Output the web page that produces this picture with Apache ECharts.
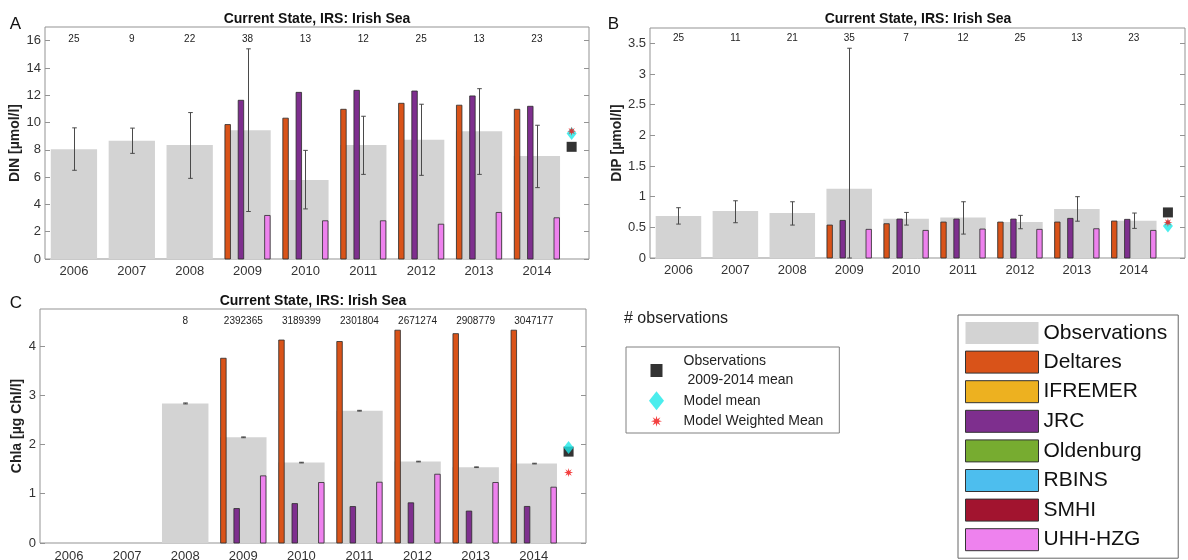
<!DOCTYPE html>
<html><head><meta charset="utf-8">
<script src="https://cdn.jsdelivr.net/npm/echarts@6/dist/echarts.min.js"></script>
<style>html,body{margin:0;padding:0;background:#fff}#c{width:1188px;height:560px}</style>
</head><body><div id="c"></div>
<script>
// ---------------- data ----------------
const years = ['2006','2007','2008','2009','2010','2011','2012','2013','2014'];
const modelNames = ['Deltares','IFREMER','JRC','Oldenburg','RBINS','SMHI','UHH-HZG'];
const modelColors = ['#d95319','#edb120','#7e2f8e','#77ac30','#4dbeee','#a2142f','#ee82ee'];

// Panel A: DIN
const obsA   = [8.05, 8.66, 8.35, 9.44, 5.79, 8.35, 8.73, 9.37, 7.54];
const errLoA = [6.50, 7.74, 5.91, 3.48, 3.67, 6.20, 6.13, 6.20, 5.23];
const errHiA = [9.61, 9.59, 10.73, 15.40, 7.96, 10.46, 11.34, 12.48, 9.80];
const delA   = [null, null, null, 9.85, 10.32, 10.97, 11.41, 11.27, 10.97];
const jrcA   = [null, null, null, 11.63, 12.21, 12.36, 12.31, 11.95, 11.19];
const uhhA   = [null, null, null, 3.19, 2.80, 2.80, 2.55, 3.41, 3.02];
const countsA = ['25','9','22','38','13','12','25','13','23'];
const meansA = [8.22, 9.20, 9.37]; // obs 2009-2014 mean, model mean, weighted mean
const yTicksA = [0,2,4,6,8,10,12,14,16];

// Panel B: DIP
const obsB   = [0.684, 0.765, 0.733, 1.13, 0.64, 0.662, 0.586, 0.80, 0.608];
const errLoB = [0.553, 0.575, 0.537, 0.0, 0.537, 0.39, 0.477, 0.60, 0.483];
const errHiB = [0.82, 0.933, 0.917, 3.42, 0.743, 0.917, 0.695, 1.0, 0.733];
const delB   = [null, null, null, 0.537, 0.559, 0.586, 0.586, 0.586, 0.602];
const jrcB   = [null, null, null, 0.613, 0.635, 0.635, 0.635, 0.646, 0.630];
const uhhB   = [null, null, null, 0.467, 0.450, 0.472, 0.467, 0.477, 0.450];
const countsB = ['25','11','21','35','7','12','25','13','23'];
const meansB = [0.743, 0.52, 0.58];
const yTicksB = [0,0.5,1,1.5,2,2.5,3,3.5];

// Panel C: Chla
const obsC   = [null, null, 2.833, 2.145, 1.632, 2.685, 1.653, 1.538, 1.612];
const errLoC = [null, null, 2.823, 2.137, 1.625, 2.677, 1.646, 1.531, 1.605];
const errHiC = [null, null, 2.843, 2.153, 1.639, 2.693, 1.660, 1.545, 1.619];
const delC   = [null, null, null, 3.75, 4.12, 4.09, 4.32, 4.25, 4.32];
const jrcC   = [null, null, null, 0.70, 0.80, 0.74, 0.816, 0.648, 0.742];
const uhhC   = [null, null, null, 1.363, 1.228, 1.234, 1.396, 1.228, 1.133];
const countsC = ['', '', '8','2392365','3189399','2301804','2671274','2908779','3047177'];
const meansC = [1.855, 1.94, 1.43];
const yTicksC = [0,1,2,3,4];

// ---------------- styling / layout ----------------
const FONT = '"Liberation Sans", Arial, Helvetica, sans-serif';
const BOX = '#939393';
const panels = [
  {grid:{left:45, top:27, width:544, height:232}, yMax:17, yTicks:yTicksA, yName:'DIN [µmol/l]', nameGap:21, xMargin:6,
   obs:obsA, lo:errLoA, hi:errHiA, models:{'Deltares':delA,'JRC':jrcA,'UHH-HZG':uhhA}, counts:countsA, countY:16.1, means:meansA},
  {grid:{left:650, top:28, width:535, height:230}, yMax:3.75, yTicks:yTicksB, yName:'DIP [µmol/l]', nameGap:25, xMargin:6,
   obs:obsB, lo:errLoB, hi:errHiB, models:{'Deltares':delB,'JRC':jrcB,'UHH-HZG':uhhB}, counts:countsB, countY:3.59, means:meansB},
  {grid:{left:40, top:309, width:546, height:234}, yMax:4.75, yTicks:yTicksC, yName:'Chla [µg Chl/l]', nameGap:16, xMargin:7,
   obs:obsC, lo:errLoC, hi:errHiC, models:{'Deltares':delC,'JRC':jrcC,'UHH-HZG':uhhC}, counts:countsC, countY:4.5, means:meansC}
];
const X_MIN = 0.5, X_MAX = 9.9, X_MEAN = 9.6;
const xPos = years.map((y,i)=>i+1);

function starPathStr(cx, cy, r1, r2, n){
  let d = '';
  for (let i=0;i<2*n;i++){
    const a = Math.PI*i/n - Math.PI/2, r = (i%2)? r2 : r1;
    d += (i?'L':'M') + (cx + r*Math.cos(a)).toFixed(2) + ',' + (cy + r*Math.sin(a)).toFixed(2);
  }
  return d + 'Z';
}
const starSymbol = 'path://' + starPathStr(50,50,50,20,8);
const legSquare = 'path://M6,0L6,0.01M0,3L12,3L12,16L0,16ZM6,19L6,19.01';
const legDiamond = 'path://M7.5,0L15,9.5L7.5,19L0,9.5Z';
const legStar = 'path://M6,0L6,0.01' + starPathStr(6,9.5,5.5,2.3,8) + 'M6,19L6,19.01';

function barRender(offset, width, color, stroke){
  return function(params, api){
    const x = api.value(0), v = api.value(1);
    const p0 = api.coord([x + offset - width/2, 0]);
    const p1 = api.coord([x + offset + width/2, v]);
    return {type:'rect', shape:{x:p0[0], y:p1[1], width:p1[0]-p0[0], height:p0[1]-p1[1]},
            style:{fill:color, stroke: stroke || null, lineWidth: stroke ? 0.8 : 0}};
  };
}
function errRender(params, api){
  const x = api.value(0), lo = api.value(1), hi = api.value(2);
  const a = api.coord([x, lo]), b = api.coord([x, hi]);
  const c = 2.3, st = {stroke:'#4a4a4a', lineWidth:1};
  const xx = Math.round(a[0]) + 0.5;
  return {type:'group', children:[
    {type:'line', shape:{x1:xx, y1:a[1], x2:xx, y2:b[1]}, style:st},
    {type:'line', shape:{x1:xx-c, y1:a[1], x2:xx+c, y2:a[1]}, style:st},
    {type:'line', shape:{x1:xx-c, y1:b[1], x2:xx+c, y2:b[1]}, style:st}
  ]};
}

const grids = [], xAxes = [], yAxes = [], series = [];
panels.forEach((p, g) => {
  grids.push(Object.assign({show:true, borderColor:BOX, borderWidth:1, backgroundColor:'transparent',
    containLabel:false, outerBoundsMode:'none'}, p.grid));
  xAxes.push({type:'value', gridIndex:g, min:X_MIN, max:X_MAX,
    axisLine:{show:false}, axisTick:{show:false}, splitLine:{show:false},
    axisLabel:{customValues:xPos, formatter:v => years[Math.round(v)-1] || '', margin:p.xMargin,
               fontSize:13, color:'#333', fontFamily:FONT}});
  const yBase = {type:'value', gridIndex:g, min:0, max:p.yMax, splitLine:{show:false}, axisLine:{show:false}};
  yAxes.push(Object.assign({}, yBase, {position:'left', name:p.yName, nameLocation:'middle', nameGap:p.nameGap,
    nameTextStyle:{fontWeight:'bold', fontSize:14, color:'#222', fontFamily:FONT},
    axisTick:{show:true, inside:true, length:5, customValues:p.yTicks, lineStyle:{color:BOX}},
    axisLabel:{customValues:p.yTicks, margin:4, fontSize:13, color:'#333', fontFamily:FONT}}));
  yAxes.push(Object.assign({}, yBase, {position:'right',
    axisTick:{show:true, inside:true, length:5, customValues:p.yTicks, lineStyle:{color:BOX}},
    axisLabel:{show:false, customValues:p.yTicks}}));
  const ax = {xAxisIndex:g, yAxisIndex:2*g};

  // observation bars
  series.push(Object.assign({type:'custom', name:'Observations', silent:true,
    renderItem: barRender(0, 0.8, '#d3d3d3', null),
    encode:{x:0, y:1},
    data: p.obs.map((v,i)=>[i+1, v]).filter(d=>d[1]!=null)}, ax));
  // model bars
  modelNames.forEach((m, k) => {
    const vals = p.models[m];
    if (!vals) return;
    series.push(Object.assign({type:'custom', name:m, silent:true,
      itemStyle:{color:modelColors[k]},
      renderItem: barRender((k-3)*0.8/7, 0.095, modelColors[k], '#2b2b2b'),
      encode:{x:0, y:1},
      data: vals.map((v,i)=>[i+1, v]).filter(d=>d[1]!=null)}, ax));
  });
  // error bars
  series.push(Object.assign({type:'custom', name:'err'+g, silent:true, renderItem: errRender,
    encode:{x:0, y:[1,2]},
    data: p.obs.map((v,i)=>[i+1, p.lo[i], p.hi[i]]).filter(d=>d[1]!=null)}, ax));
  // observation counts
  series.push(Object.assign({type:'custom', name:'n'+g, silent:true,
    renderItem: (params, api) => {
      const pt = api.coord([api.value(0), api.value(1)]);
      return {type:'text', x:pt[0], y:pt[1], style:{text:p.counts[params.dataIndex], fill:'#222',
        fontSize:10, fontFamily:FONT, align:'center', verticalAlign:'middle'}};
    },
    encode:{x:0, y:1},
    data: p.counts.map((c,i)=>[i+1, p.countY])}, ax));
  // means
  series.push(Object.assign({type:'scatter', name:'Observations 2009-2014 mean', silent:true,
    symbol:'rect', symbolSize:10, itemStyle:{color:'#000'}, data:[[X_MEAN, p.means[0]]]}, ax));
  series.push(Object.assign({type:'scatter', name:'Model mean', silent:true,
    symbol:'diamond', symbolSize:[10,13], itemStyle:{color:'#1ee8e8'}, data:[[X_MEAN, p.means[1]]]}, ax));
  series.push(Object.assign({type:'scatter', name:'Model Weighted Mean', silent:true,
    symbol:starSymbol, symbolSize:9, itemStyle:{color:'#f01010'}, data:[[X_MEAN, p.means[2]]]}, ax));
});
// models without values in this region (legend only)
modelNames.forEach((m, k) => {
  if (panels.some(p => p.models[m])) return;
  series.push({type:'custom', name:m, xAxisIndex:0, yAxisIndex:0, itemStyle:{color:modelColors[k]},
    renderItem: barRender(0, 0.1, modelColors[k], '#2b2b2b'), data:[]});
});

const legendBars = [{name:'Observations', icon:'rect', itemStyle:{color:'#d3d3d3', borderWidth:0}}]
  .concat(modelNames.map((m,k)=>({name:m, icon:'rect', itemStyle:{color:modelColors[k], borderColor:'#333', borderWidth:1}})));

const option = {
  animation:false,
  textStyle:{fontFamily:FONT},
  grid:grids, xAxis:xAxes, yAxis:yAxes, series:series,
  legend:[
    {orient:'vertical', left:626, top:347, padding:[4,16,2,23], itemWidth:44, itemHeight:19, itemGap:1,
     borderColor:'#808080', borderWidth:1, selectedMode:false,
     textStyle:{fontSize:14, color:'#222', lineHeight:19.5, fontFamily:FONT},
     formatter: n => n === 'Observations 2009-2014 mean' ? 'Observations\n 2009-2014 mean' : n,
     data:[
       {name:'Observations 2009-2014 mean', icon:legSquare, itemStyle:{color:'#000', borderWidth:0}},
       {name:'Model mean', icon:legDiamond, itemStyle:{color:'#1ee8e8', borderWidth:0}},
       {name:'Model Weighted Mean', icon:legStar, itemStyle:{color:'#f01010', borderWidth:0}}
     ]},
    {orient:'vertical', left:958, top:315, height:400, padding:[7,11,7,7], itemWidth:73, itemHeight:22, itemGap:6.6,
     borderColor:'#666', borderWidth:1, selectedMode:false,
     textStyle:{fontSize:21, color:'#111', lineHeight:22, fontFamily:FONT},
     data:legendBars}
  ],
  graphic:[
    {type:'text', x:317, y:19, style:{text:'Current State, IRS: Irish Sea', font:'bold 14px '+FONT, fill:'#111', align:'center', verticalAlign:'middle'}},
    {type:'text', x:918, y:19, style:{text:'Current State, IRS: Irish Sea', font:'bold 14px '+FONT, fill:'#111', align:'center', verticalAlign:'middle'}},
    {type:'text', x:313, y:301, style:{text:'Current State, IRS: Irish Sea', font:'bold 14px '+FONT, fill:'#111', align:'center', verticalAlign:'middle'}},
    {type:'text', x:15.5, y:24, style:{text:'A', font:'17px '+FONT, fill:'#111', align:'center', verticalAlign:'middle'}},
    {type:'text', x:613.5, y:24, style:{text:'B', font:'17px '+FONT, fill:'#111', align:'center', verticalAlign:'middle'}},
    {type:'text', x:16, y:303, style:{text:'C', font:'17px '+FONT, fill:'#111', align:'center', verticalAlign:'middle'}},
    {type:'text', x:624, y:319, style:{text:'# observations', font:'16px '+FONT, fill:'#222', align:'left', verticalAlign:'middle'}}
  ]
};
const chart = echarts.init(document.getElementById('c'), null, {renderer:'canvas'});
chart.setOption(option);
</script>
</body></html>
